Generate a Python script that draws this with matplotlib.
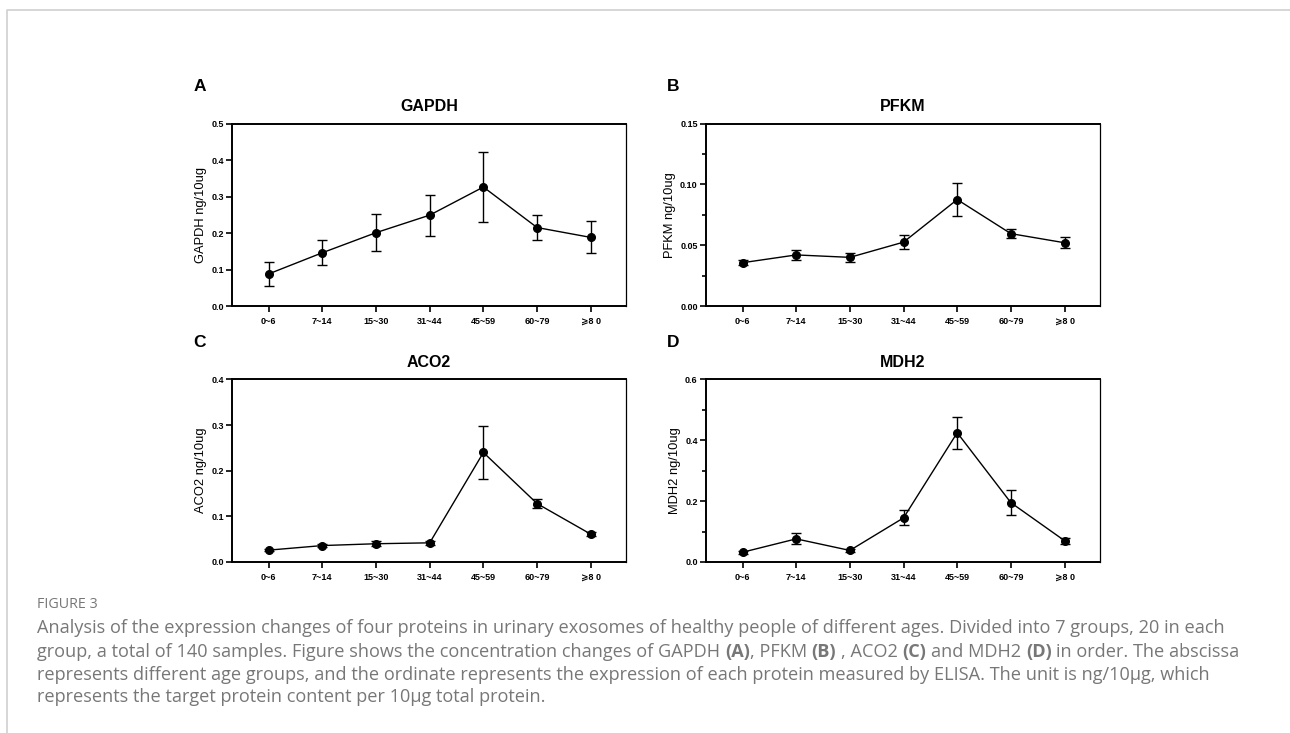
import matplotlib
matplotlib.use('Agg')
import matplotlib.pyplot as plt
from matplotlib.ticker import MultipleLocator

# age groups on the x axis
groups = ['0~6', '7~14', '15~30', '31~44', '45~59', '60~79', '⩾8 0']

# mean and error (ng/10ug)
gapdh = [0.088, 0.146, 0.201, 0.249, 0.326, 0.215, 0.188]
gapdh_err = [0.032, 0.034, 0.050, 0.056, 0.096, 0.035, 0.044]

pfkm = [0.0356, 0.0420, 0.0400, 0.0525, 0.0875, 0.0595, 0.0520]
pfkm_err = [0.0020, 0.0042, 0.0036, 0.0058, 0.0138, 0.0040, 0.0047]

aco2 = [0.026, 0.036, 0.040, 0.042, 0.240, 0.128, 0.061]
aco2_err = [0.003, 0.004, 0.005, 0.004, 0.058, 0.010, 0.005]

mdh2 = [0.032, 0.076, 0.038, 0.145, 0.425, 0.195, 0.070]
mdh2_err = [0.005, 0.018, 0.005, 0.025, 0.053, 0.042, 0.010]

fig = plt.figure(figsize=(12.9, 7.33), dpi=100)
FONT = ['Liberation Sans', 'DejaVu Sans']


def panel(rect, mean, err, title, ylab, letter, ymax, major, minor=None):
    ax = fig.add_axes(rect)
    x = range(len(mean))
    ax.errorbar(x, mean, yerr=err, fmt='-o', color='black', ms=5.5, lw=1,
                elinewidth=1, capsize=3.5, capthick=1)
    ax.set_xlim(-0.68, len(mean) - 1 + 0.66)
    ax.set_ylim(0, ymax)
    ax.set_xticks(list(x))
    ax.set_xticklabels(groups, family=FONT, fontsize=6.5, fontweight='bold')
    ax.yaxis.set_major_locator(MultipleLocator(major))
    if minor:
        ax.yaxis.set_minor_locator(MultipleLocator(minor))
    for lab in ax.get_yticklabels():
        lab.set_family(FONT)
        lab.set_fontsize(6.5)
        lab.set_fontweight('bold')
    ax.tick_params(which='major', direction='out', length=4, width=1.2, pad=2)
    ax.tick_params(which='minor', direction='out', length=3, width=1.2)
    ax.tick_params(axis='x', pad=4)
    for side in ['left', 'bottom', 'top']:
        ax.spines[side].set_linewidth(1.4)
    ax.spines['right'].set_linewidth(0.9)
    ax.set_ylabel(ylab, family=FONT, fontsize=9.3, labelpad=3)
    ax.set_title(title, family=FONT, fontsize=11.5, fontweight='bold', pad=9)
    fig.text(rect[0] - 0.03, rect[1] + rect[3] + 0.05, letter, family=FONT,
             fontsize=12.5, fontweight='bold', ha='left', va='center')
    return ax


w, h = 0.3054, 0.249
panel([0.1800, 0.5825, w, h], gapdh, gapdh_err, 'GAPDH', 'GAPDH ng/10ug', 'A', 0.5, 0.1)
panel([0.5473, 0.5825, w, h], pfkm, pfkm_err, 'PFKM', 'PFKM ng/10ug', 'B', 0.15, 0.05, 0.025)
panel([0.1800, 0.2333, w, h], aco2, aco2_err, 'ACO2', 'ACO2 ng/10ug', 'C', 0.4, 0.1)
panel([0.5473, 0.2333, w, h], mdh2, mdh2_err, 'MDH2', 'MDH2 ng/10ug', 'D', 0.6, 0.2, 0.1)

# page frame and caption
cap = fig.add_axes([0, 0, 1, 1])
cap.axis('off')
cap.set_xlim(0, 1)
cap.set_ylim(0, 1)
cap.plot([0.0054, 0.0054, 1.0], [0.0, 0.9864, 0.9864], color='#d0d0d0', lw=1.2)

GREY = '#777777'
CFONT = ['Open Sans', 'DejaVu Sans']
FS = 13.1
x0 = 0.0287
cap.text(x0, 1 - 605 / 733, 'FIGURE 3', family=CFONT, fontsize=10.3, color=GREY,
         va='center')
line_y = [628, 652, 675, 697]
cap.text(x0, 1 - line_y[0] / 733,
         'Analysis of the expression changes of four proteins in urinary exosomes of healthy '
         'people of different ages. Divided into 7 groups, 20 in each',
         family=CFONT, fontsize=FS, color=GREY, va='center')

pieces = [('group, a total of 140 samples. Figure shows the concentration changes of GAPDH', False, 0),
          ('(A)', True, 1), (', PFKM', False, 0), ('(B)', True, 1), (', ACO2', False, 1),
          ('(C)', True, 1), ('and MDH2', False, 1), ('(D)', True, 1),
          ('in order. The abscissa', False, 1)]
prev = None
for txt, bold, gap in pieces:
    wt = 'bold' if bold else 'normal'
    if prev is None:
        prev = cap.text(x0, 1 - line_y[1] / 733, txt, family=CFONT, fontsize=FS,
                        color=GREY, va='center', fontweight=wt)
    else:
        prev = cap.annotate(txt, xy=(1, 0.5), xycoords=prev, xytext=(gap * 0.26 * FS, 0),
                            textcoords='offset points', family=CFONT, fontsize=FS,
                            color=GREY, va='center', ha='left', fontweight=wt)

cap.text(x0, 1 - line_y[2] / 733,
         'represents different age groups, and the ordinate represents the expression of each '
         'protein measured by ELISA. The unit is ng/10µg, which',
         family=CFONT, fontsize=FS, color=GREY, va='center')
cap.text(x0, 1 - line_y[3] / 733,
         'represents the target protein content per 10µg total protein.',
         family=CFONT, fontsize=FS, color=GREY, va='center')

plt.savefig('out.png', dpi=100)
